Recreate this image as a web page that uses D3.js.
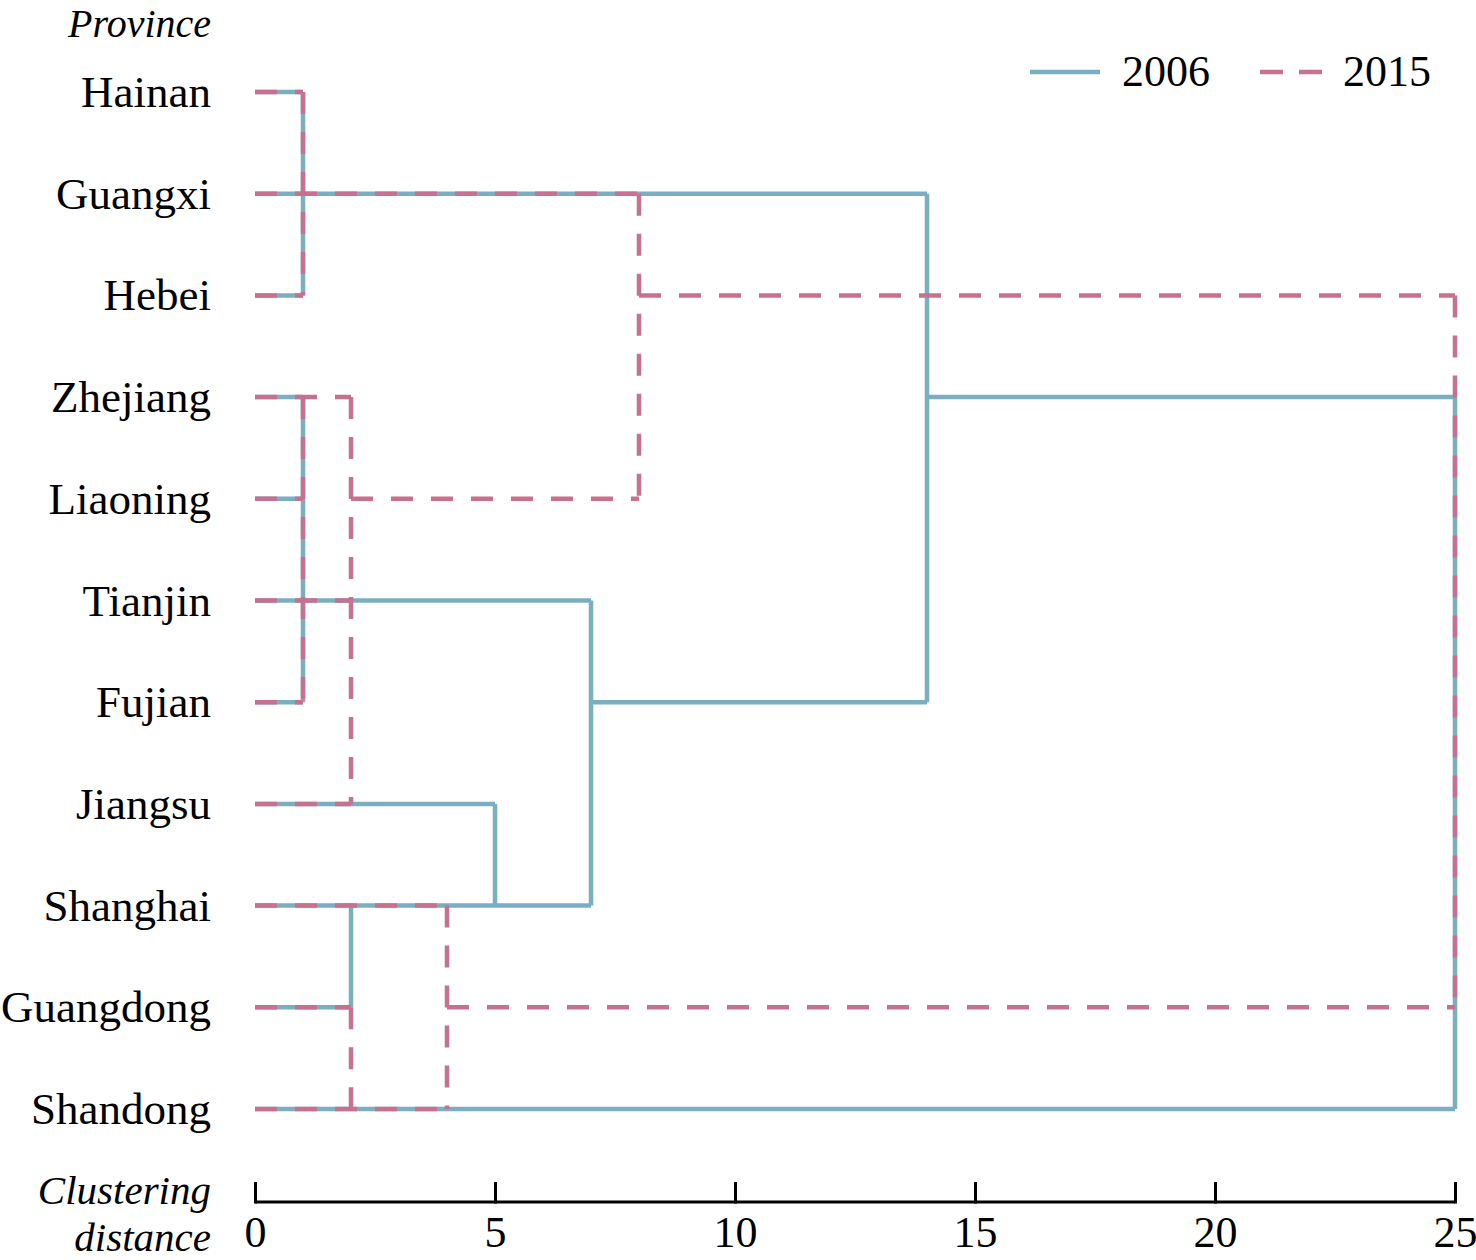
<!DOCTYPE html>
<html><head><meta charset="utf-8">
<script src="https://cdn.jsdelivr.net/npm/d3@7"></script>
<style>body{margin:0;background:#fff}svg{display:block}text{font-family:"Liberation Serif","Times New Roman",serif !important;fill:#000}</style>
</head><body>
<script>
const provinces = ["Hainan","Guangxi","Hebei","Zhejiang","Liaoning","Tianjin","Fujian","Jiangsu","Shanghai","Guangdong","Shandong"];
const xTicks = [0,5,10,15,20,25];
const years = ["2006","2015"];
// horizontal segments: [row, from distance, to distance]
const h2006 = [[0,0,1],[1,0,14],[2,0,1],[3,0,1],[4,0,1],[5,0,7],[6,0,1],[7,0,5],[8,0,7],[9,0,2],[10,0,25],[6,7,14],[3,14,25]];
// vertical segments: [distance, from row, to row]
const v2006 = [[1,0,2],[1,3,6],[2,8,9],[5,7,8],[7,5,8],[14,1,6],[25,3,10]];
const h2015 = [[0,0,1],[1,0,8],[2,0,1],[3,0,2],[4,0,1],[4,2,8],[5,0,2],[6,0,1],[7,0,2],[8,0,4],[9,0,2],[9,4,25],[10,0,4],[2,8,25]];
const v2015 = [[1,0,2],[1,3,6],[2,3,7],[2,9,10],[4,8,10],[8,1,4],[25,2,9]];

const W=1476,H=1260;
const svg=d3.select("body").append("svg").attr("width",W).attr("height",H);
const x=d3.scaleLinear().domain([0,25]).range([255,1455]);
const y=d3.scalePoint().domain(d3.range(provinces.length)).range([92,1109]);
const styles={"2006":{color:"#79aec3",dash:null},"2015":{color:"#c8718f",dash:"22,18"}};
const sets={"2006":{h:h2006,v:v2006},"2015":{h:h2015,v:v2015}};

years.forEach(yr=>{
  const st=styles[yr], g=svg.append("g").attr("fill","none").attr("stroke",st.color).attr("stroke-width",4.5);
  g.selectAll("line.h").data(sets[yr].h).join("line").attr("class","h")
    .attr("x1",d=>x(d[1])).attr("x2",d=>x(d[2])).attr("y1",d=>y(d[0])).attr("y2",d=>y(d[0]))
    .attr("stroke-dasharray",st.dash);
  g.selectAll("line.v").data(sets[yr].v).join("line").attr("class","v")
    .attr("x1",d=>x(d[0])).attr("x2",d=>x(d[0])).attr("y1",d=>y(d[1])).attr("y2",d=>y(d[2]))
    .attr("stroke-dasharray",st.dash);
});

// province labels
svg.append("g").selectAll("text").data(provinces).join("text")
  .attr("x",211).attr("y",(d,i)=>y(i)+15).attr("text-anchor","end").attr("font-size",45).text(d=>d);
svg.append("text").attr("x",211).attr("y",37).attr("text-anchor","end").attr("font-size",40).attr("font-style","italic").text("Province");

// axis
const axG=svg.append("g").attr("transform","translate(0,1202)");
const axis=d3.axisBottom(x).tickValues(xTicks).tickSize(0).tickPadding(0).tickFormat(d3.format("d"));
axG.call(axis);
axG.attr("font-family",null);
axG.select(".domain").remove();
axG.append("line").attr("x1",x(0)).attr("x2",x(25)).attr("stroke","#000").attr("stroke-width",3);
axG.selectAll(".tick line").remove();
axG.selectAll(".tick").append("line").attr("y1",1.5).attr("y2",-20).attr("stroke","#000").attr("stroke-width",3);
axG.selectAll(".tick text").attr("font-size",44).attr("fill","#000").attr("dy",null).attr("y",45);
svg.append("text").attr("x",211).attr("y",1204).attr("text-anchor","end").attr("font-size",41).attr("font-style","italic").text("Clustering");
svg.append("text").attr("x",211).attr("y",1251).attr("text-anchor","end").attr("font-size",41).attr("font-style","italic").text("distance");

// legend
const leg=[{yr:"2006",x0:1030,x1:1100,tx:1122},{yr:"2015",x0:1260,x1:1322,tx:1343}];
const lg=svg.append("g");
lg.selectAll("line").data(leg).join("line").attr("x1",d=>d.x0).attr("x2",d=>d.x1).attr("y1",72).attr("y2",72)
  .attr("stroke",d=>styles[d.yr].color).attr("stroke-width",4.5).attr("stroke-dasharray",d=>d.yr==="2015"?"23,16":null);
lg.selectAll("text").data(leg).join("text").attr("x",d=>d.tx).attr("y",86).attr("font-size",44).text(d=>d.yr);
</script>
</body></html>
